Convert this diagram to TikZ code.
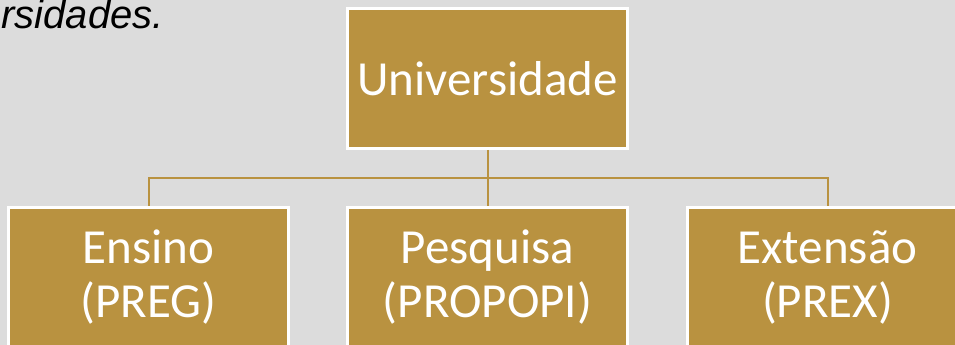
\documentclass[tikz,border=0pt]{standalone}
\usepackage{fontspec}
\setmainfont{Carlito}
\newfontfamily\captionfont{Liberation Sans}
\begin{document}
\begin{tikzpicture}[x=1pt, y=-1pt, every node/.style={font=\fontsize{49}{54}\selectfont}]
        \definecolor{boxgold}{RGB}{185,146,64}
        \definecolor{slidegray}{RGB}{220,220,220}
        \tikzset{unitbox/.style={fill=boxgold, draw=white, line width=2.7pt, text=white,
            align=center, minimum width=280pt, minimum height=140pt, inner sep=0pt},
          link/.style={draw=boxgold, line width=2pt}}
        \useasboundingbox (0,0) rectangle (955,345);
        \clip (0,0) rectangle (955,345);
        \fill[slidegray] (0,0) rectangle (955,345);
        % text cut off by the slide edge
        \node[anchor=base east, inner sep=0pt, font=\captionfont\itshape\fontsize{40}{48}\selectfont] (caption) at (164,29) {rsidades.};
        \node[unitbox] (univ) at (487.5,78.5) {Universidade};
        \node[unitbox] (ensino) at (148.5,277.5) {Ensino\\(PREG)};
        \node[unitbox] (pesquisa) at (487.5,277.5) {Pesquisa\\(PROPOPI)};
        \node[unitbox] (extensao) at (827.5,277.5) {Extensão\\(PREX)};
        \coordinate (split) at (487.5,178);
        \draw[link] (univ) -- (split);
        \draw[link] (split) -| (ensino);
        \draw[link] (split) -- (pesquisa);
        \draw[link] (split) -| (extensao);
      \end{tikzpicture}
\end{document}
